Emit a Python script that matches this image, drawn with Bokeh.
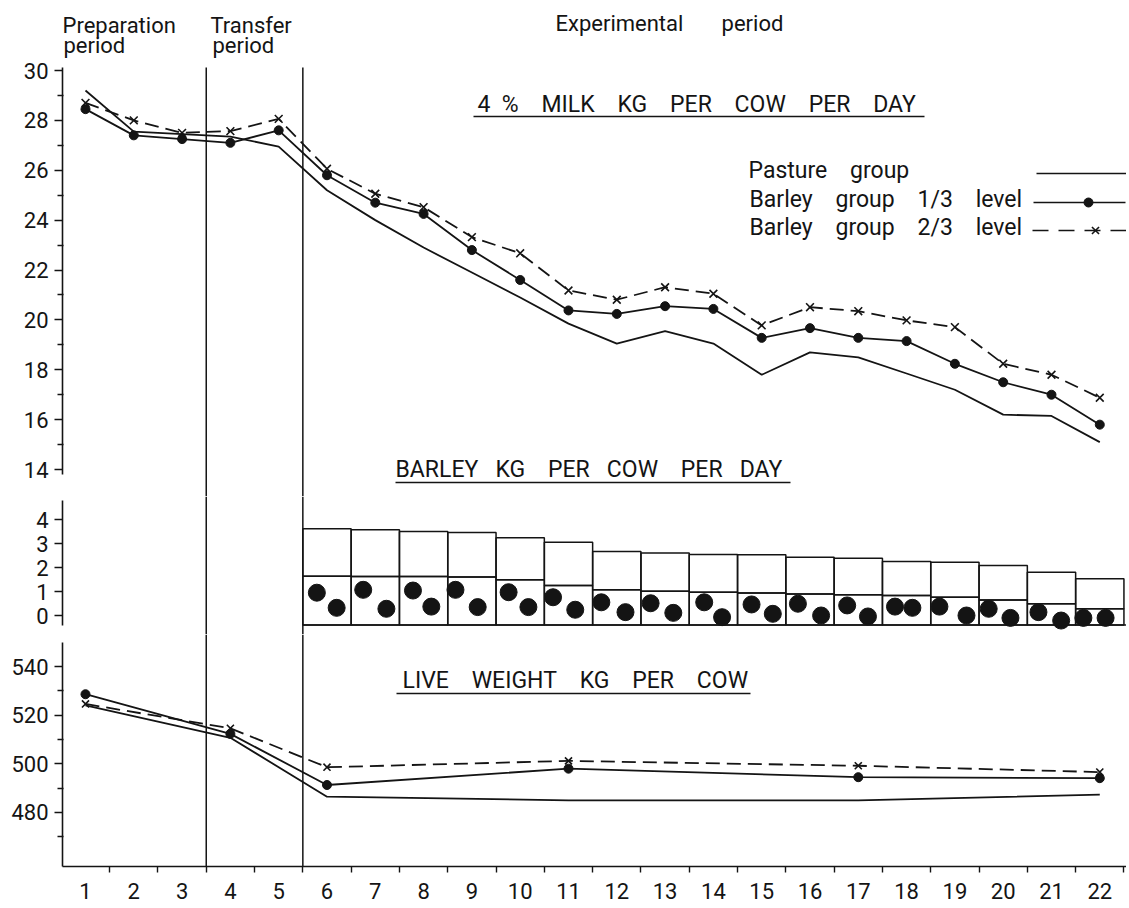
from bokeh.plotting import figure
from bokeh.layouts import column
from bokeh.models import FixedTicker, Span, Range1d
from bokeh.core.properties import value
from bokeh.embed import file_html
from bokeh.resources import INLINE

# ---------------- data ----------------
periods = list(range(1, 23))

milk_pasture = [29.2, 27.55, 27.45, 27.35, 26.95, 25.2, 24.0, 22.9, 21.9, 20.9, 19.85,
                19.05, 19.55, 19.05, 17.8, 18.7, 18.5, 17.85, 17.2, 16.2, 16.15, 15.1]
milk_barley_13 = [28.45, 27.4, 27.25, 27.1, 27.6, 25.8, 24.7, 24.25, 22.8, 21.6, 20.38,
                  20.24, 20.55, 20.44, 19.28, 19.67, 19.28, 19.15, 18.24, 17.5, 17.0, 15.8]
milk_barley_23 = [28.7, 28.0, 27.5, 27.57, 28.06, 26.06, 25.06, 24.52, 23.32, 22.67, 21.18,
                  20.81, 21.31, 21.05, 19.78, 20.51, 20.35, 19.98, 19.71, 18.24, 17.8, 16.88]

barley_periods = list(range(6, 23))
barley_23_level = [3.61, 3.57, 3.5, 3.46, 3.24, 3.05, 2.67, 2.6, 2.54, 2.53, 2.43, 2.39,
                   2.25, 2.22, 2.08, 1.8, 1.53]
barley_13_level = [1.64, 1.63, 1.62, 1.6, 1.49, 1.25, 1.07, 1.01, 0.97, 0.94, 0.9, 0.86,
                   0.83, 0.76, 0.65, 0.49, 0.28]
barley_base = -0.4
# decorative grains drawn in the 1/3-level boxes
grain_a_dx = [-0.21, -0.25, -0.22, -0.34, -0.24, -0.32, -0.32, -0.3, -0.19, -0.21, -0.25,
              -0.23, -0.24, -0.32, -0.3, -0.27, -0.34]
grain_a_y = [0.95, 1.07, 1.04, 1.07, 0.97, 0.76, 0.55, 0.51, 0.55, 0.46, 0.49, 0.42, 0.37,
             0.37, 0.28, 0.14, -0.1]
grain_b_dx = [0.2, 0.23, 0.16, 0.12, 0.17, 0.14, 0.18, 0.17, 0.18, 0.23, 0.23, 0.2, 0.12,
              0.24, 0.15, 0.2, 0.12]
grain_b_y = [0.32, 0.28, 0.37, 0.35, 0.35, 0.24, 0.14, 0.11, -0.07, 0.07, 0.0, -0.04, 0.32,
             0.0, -0.1, -0.21, -0.1]

weight_periods = [1, 4, 6, 11, 17, 22]
weight_pasture = [524.0, 510.7, 486.5, 485.0, 485.0, 487.3]
weight_barley_13 = [528.6, 512.3, 491.3, 498.0, 494.5, 494.1]
weight_barley_23 = [524.6, 514.6, 498.6, 501.2, 499.2, 496.6]

period_boundaries = [3.5, 5.5]

# ---------------- styling ----------------
FONT = "Roboto"
INK = "#141414"
NB = "\u00a0"


def gap(n):
    return NB * n


FRAME_W = 1064
BORDER_L = 62
X0, X1 = 0.524, 22.553
PXU = FRAME_W / (X1 - X0)


def X(px):  # picture pixel -> period coordinate
    return X0 + (px - BORDER_L) / PXU


def base(py, size):  # wanted text baseline (picture px) -> anchor px
    return py - 0.345 * size


def make_fig(frame_h, y0, y1, bottom=0):
    p = figure(frame_width=FRAME_W, frame_height=frame_h,
               x_range=Range1d(X0, X1), y_range=Range1d(y0, y1),
               output_backend="svg", toolbar_location=None, title=None,
               min_border_left=BORDER_L, min_border_right=0,
               min_border_top=0, min_border_bottom=bottom,
               x_axis_type=None, outline_line_color=None,
               background_fill_color="white", border_fill_color="white")
    p.grid.visible = False
    return p


def style_yaxis(ax, major, minor, bounds):
    ax.ticker = FixedTicker(ticks=major, minor_ticks=minor)
    ax.bounds = bounds
    ax.axis_line_color = INK
    ax.axis_line_width = 1.6
    ax.major_tick_line_color = INK
    ax.major_tick_line_width = 1.4
    ax.minor_tick_line_color = INK
    ax.minor_tick_line_width = 1.4
    ax.major_tick_out = 8
    ax.major_tick_in = 0
    ax.minor_tick_out = 5
    ax.minor_tick_in = 1
    ax.major_label_text_font = FONT
    ax.major_label_text_font_size = "22px"
    ax.major_label_text_color = INK
    ax.major_label_standoff = 6


def underline(p, x0, x1, y):
    p.segment(x0=[X(x0)], y0=[y], x1=[X(x1)], y1=[y], line_color=INK, line_width=1.5)


SPLIT1 = 496
SPLIT2 = 634
AXIS_Y = 866


# ---------------- milk panel ----------------
def YM(py):
    return 30 - (py - 70) / 24.94


p1 = make_fig(SPLIT1, YM(SPLIT1), YM(0))
style_yaxis(p1.yaxis[0], list(range(14, 31, 2)), list(range(15, 30, 2)), (13.8, 30.12))

for b in period_boundaries:
    p1.segment(x0=[b], y0=[YM(SPLIT1)], x1=[b], y1=[30.12], line_color=INK, line_width=1.5)

p1.line(periods, milk_pasture, line_color=INK, line_width=1.8)
p1.line(periods, milk_barley_13, line_color=INK, line_width=1.8)
p1.scatter(periods, milk_barley_13, marker="circle", size=9, fill_color=INK, line_color=INK)
p1.line(periods, milk_barley_23, line_color=INK, line_width=1.8, line_dash="14 7")
p1.scatter(periods, milk_barley_23, marker="x", size=11, line_color=INK, line_width=1.6)

# period headers
p1.text(x=[X(62), X(63), X(210), X(212), X(555)],
        y=[YM(base(33, 22)), YM(base(53, 22)), YM(base(33, 22)), YM(base(53, 22)),
           YM(base(31, 22))],
        text=["Preparation", "period", "Transfer", "period", "Experimental" + gap(7) + "period"],
        text_font=value(FONT), text_font_size="22px", text_color=INK,
        text_align="left", text_baseline="alphabetic")

# panel title
milk_title = ("4" + gap(2) + "%" + gap(4) + "MILK" + gap(4) + "KG" + gap(4) + "PER" + gap(4)
              + "COW" + gap(4) + "PER" + gap(4) + "DAY")
p1.text(x=[X(477)], y=[YM(base(112, 23))], text=[milk_title], text_font=value(FONT),
        text_font_size="23px", text_color=INK, text_align="left", text_baseline="alphabetic")
underline(p1, 473, 924, YM(116))

# legend
legend_labels = ["Pasture" + gap(4) + "group",
                 "Barley" + gap(4) + "group" + gap(4) + "1/3" + gap(4) + "level",
                 "Barley" + gap(4) + "group" + gap(4) + "2/3" + gap(4) + "level"]
p1.text(x=[X(748), X(749), X(749)],
        y=[YM(base(178, 23)), YM(base(207, 23)), YM(base(235, 23))], text=legend_labels,
        text_font=value(FONT), text_font_size="23px", text_color=INK,
        text_align="left", text_baseline="alphabetic")
p1.segment(x0=[X(1036)], y0=[YM(173)], x1=[X1], y1=[YM(173)], line_color=INK, line_width=1.6)
p1.segment(x0=[X(1033)], y0=[YM(202)], x1=[X(1125)], y1=[YM(202)], line_color=INK, line_width=1.6)
p1.scatter([X(1088)], [YM(202)], marker="circle", size=9, fill_color=INK, line_color=INK)
p1.segment(x0=[X(1032)], y0=[YM(230)], x1=[X1], y1=[YM(230)], line_color=INK, line_width=1.6,
           line_dash="16 10")
p1.scatter([X(1095)], [YM(230)], marker="x", size=10, line_color=INK, line_width=1.6)

# barley title (sits just above the barley panel)
barley_title = ("BARLEY" + gap(3) + "KG" + gap(4) + "PER" + gap(3) + "COW" + gap(4)
                + "PER" + gap(3) + "DAY")
p1.text(x=[X(395)], y=[YM(base(477, 23))], text=[barley_title], text_font=value(FONT),
        text_font_size="23px", text_color=INK, text_align="left", text_baseline="alphabetic")
underline(p1, 395, 790, YM(482))


# ---------------- barley panel ----------------
def YB(py):
    return (615 - py) / 24.0


p2 = make_fig(SPLIT2 - SPLIT1, YB(SPLIT2), YB(SPLIT1))
style_yaxis(p2.yaxis[0], [0, 1, 2, 3, 4], [], (-0.4, 4.8))
for b in period_boundaries:
    p2.add_layout(Span(location=b, dimension="height", line_color=INK, line_width=1.5))

left = [p - 0.5 for p in barley_periods]
right = [p + 0.5 for p in barley_periods]
p2.quad(left=left, right=right, bottom=barley_13_level, top=barley_23_level,
        fill_color=None, line_color=INK, line_width=1.5)
p2.quad(left=left, right=right, bottom=[barley_base] * len(barley_periods), top=barley_13_level,
        fill_color=None, line_color=INK, line_width=1.5)
p2.segment(x0=[5.5], y0=[barley_base], x1=[X1], y1=[barley_base], line_color=INK, line_width=1.5)
p2.scatter([p + d for p, d in zip(barley_periods, grain_a_dx)], grain_a_y, marker="circle",
           size=17, fill_color=INK, line_color=INK)
p2.scatter([p + d for p, d in zip(barley_periods, grain_b_dx)], grain_b_y, marker="circle",
           size=17, fill_color=INK, line_color=INK)


# ---------------- live weight panel ----------------
def YW(py):
    return 540 - (py - 666) / 2.433


p3 = figure(frame_width=FRAME_W, frame_height=AXIS_Y - SPLIT2,
            x_range=p1.x_range, y_range=Range1d(YW(AXIS_Y), YW(SPLIT2)),
            output_backend="svg", toolbar_location=None, title=None,
            min_border_left=BORDER_L, min_border_right=0, min_border_top=0,
            min_border_bottom=40, outline_line_color=None,
            background_fill_color="white", border_fill_color="white")
p3.grid.visible = False
style_yaxis(p3.yaxis[0], [480, 500, 520, 540], [470, 490, 510, 530], (YW(AXIS_Y), 550))

xa = p3.xaxis[0]
xa.ticker = FixedTicker(ticks=periods, minor_ticks=[p + 0.5 for p in periods])
xa.axis_line_color = INK
xa.axis_line_width = 1.6
xa.major_tick_out = 0
xa.major_tick_in = 0
xa.minor_tick_out = 6
xa.minor_tick_in = 0
xa.minor_tick_line_color = INK
xa.minor_tick_line_width = 1.4
xa.major_label_text_font = FONT
xa.major_label_text_font_size = "22px"
xa.major_label_text_color = INK
xa.major_label_standoff = 10

for b in period_boundaries:
    p3.add_layout(Span(location=b, dimension="height", line_color=INK, line_width=1.5))

p3.line(weight_periods, weight_pasture, line_color=INK, line_width=1.8)
p3.line(weight_periods, weight_barley_13, line_color=INK, line_width=1.8)
p3.scatter(weight_periods, weight_barley_13, marker="circle", size=9, fill_color=INK, line_color=INK)
p3.line(weight_periods, weight_barley_23, line_color=INK, line_width=1.8, line_dash="14 7")
p3.scatter(weight_periods, weight_barley_23, marker="x", size=10, line_color=INK, line_width=1.6)

weight_title = gap(4).join(["LIVE", "WEIGHT", "KG", "PER", "COW"])
p3.text(x=[X(402)], y=[YW(base(688, 23))], text=[weight_title], text_font=value(FONT),
        text_font_size="23px", text_color=INK, text_align="left", text_baseline="alphabetic")
p3.segment(x0=[X(396)], y0=[YW(693)], x1=[X(750)], y1=[YW(693)], line_color=INK, line_width=1.5)

layout = column(p1, p2, p3)
open("out.html", "w").write(file_html(layout, INLINE))
